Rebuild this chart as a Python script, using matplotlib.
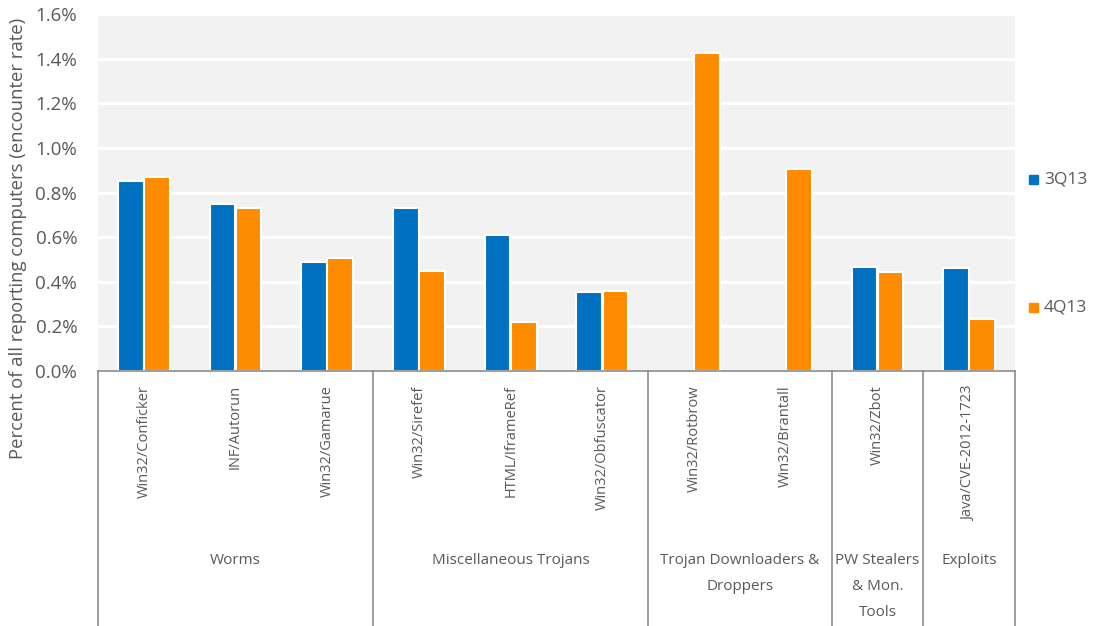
import numpy as np
import matplotlib.pyplot as plt
from matplotlib.ticker import FuncFormatter, MultipleLocator

# --- DATA ---
families = ['Win32/Conficker', 'INF/Autorun', 'Win32/Gamarue',
            'Win32/Sirefef', 'HTML/IframeRef', 'Win32/Obfuscator',
            'Win32/Rotbrow', 'Win32/Brantall',
            'Win32/Zbot', 'Java/CVE-2012-1723']
q3_13 = [0.85, 0.75, 0.49, 0.73, 0.61, 0.355, np.nan, np.nan, 0.465, 0.46]
q4_13 = [0.87, 0.73, 0.505, 0.45, 0.22, 0.36, 1.425, 0.905, 0.445, 0.235]
groups = ['Worms', 'Miscellaneous Trojans', 'Trojan Downloaders &\nDroppers',
          'PW Stealers\n& Mon.\nTools', 'Exploits']
group_sizes = [3, 3, 2, 1, 1]
series_names = ['3Q13', '4Q13']

# --- STYLE ---
BLUE = '#0070c0'
ORANGE = '#ff8c00'
TXT = '#595959'
plt.rcParams['font.family'] = ['Open Sans', 'DejaVu Sans']

fig = plt.figure(figsize=(10.94, 6.26), dpi=100)
ax = fig.add_axes([98 / 1094, 1 - 371 / 626, (1015 - 98) / 1094, (371 - 14) / 626])
ax.set_facecolor('#f2f2f2')

x = np.arange(len(families))
w = 0.28
ax.bar(x - 0.142, q3_13, w, color=BLUE, edgecolor='white', linewidth=1.5, zorder=3)
ax.bar(x + 0.142, q4_13, w, color=ORANGE, edgecolor='white', linewidth=1.5, zorder=3)

ax.set_xlim(-0.5, len(families) - 0.5)
ax.set_ylim(0, 1.6)
ax.yaxis.set_major_locator(MultipleLocator(0.2))
ax.yaxis.set_major_formatter(FuncFormatter(lambda v, p: f'{v:.1f}%'))
ax.grid(axis='y', color='white', linewidth=2.2, zorder=1)
ax.tick_params(axis='y', length=0, labelsize=13.5, labelcolor=TXT, pad=15)
ax.set_xticks([])
for s in ['top', 'right', 'left']:
    ax.spines[s].set_visible(False)
ax.spines['bottom'].set_color('#8c8c8c')
ax.spines['bottom'].set_linewidth(1.2)
ax.spines['bottom'].set_zorder(5)

# y axis title (placed by hand, it sits lower than the axes centre)
fig.text(18 / 1094, 1 - 238 / 626, 'Percent of all reporting computers (encounter rate)',
         rotation=90, ha='center', va='center', fontsize=13.3, color=TXT)

# category labels (first level)
trans = ax.get_xaxis_transform()
for xi, name in zip(x, families):
    ax.text(xi, -0.04, name, transform=trans, rotation=90, ha='center', va='top',
            fontsize=10.5, color=TXT)

# group labels and separators (second level)
bounds = np.concatenate([[0], np.cumsum(group_sizes)]) - 0.5
for b in bounds:
    ax.plot([b, b], [0, -0.715], transform=trans, color='#8c8c8c', lw=1.2,
            clip_on=False, zorder=5)
for i, g in enumerate(groups):
    mid = (bounds[i] + bounds[i + 1]) / 2
    ax.text(mid, -0.51, g, transform=trans, ha='center', va='top',
            fontsize=11, color=TXT, linespacing=2.0)

# legend
for i, (name, col) in enumerate(zip(series_names, [BLUE, ORANGE])):
    yy = 1 - (180 + i * 128) / 626
    fig.patches.append(plt.Rectangle((1029 / 1094, yy - 4.5 / 626), 9 / 1094, 9 / 626,
                                     transform=fig.transFigure, color=col))
    fig.text(1044 / 1094, yy, name, ha='left', va='center', fontsize=12.5, color=TXT)

fig.savefig('out.png', dpi=100)
